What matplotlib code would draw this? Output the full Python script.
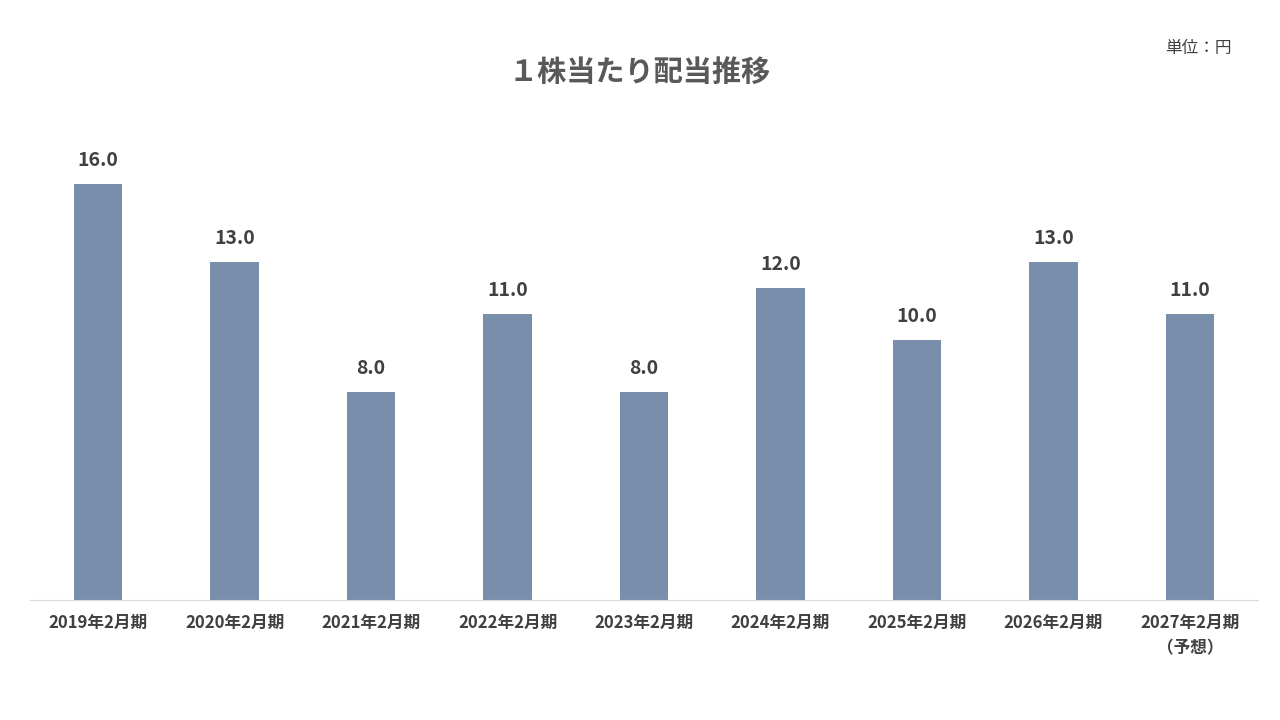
import matplotlib

matplotlib.use("Agg")
import matplotlib.pyplot as plt

plt.rcParams["font.family"] = ["Noto Sans CJK JP", "DejaVu Sans"]

periods = ["2019年2月期", "2020年2月期", "2021年2月期", "2022年2月期", "2023年2月期",
           "2024年2月期", "2025年2月期", "2026年2月期", "2027年2月期\n（予想）"]
dividends = [16.0, 13.0, 8.0, 11.0, 8.0, 12.0, 10.0, 13.0, 11.0]

fig = plt.figure(figsize=(12.8, 7.2), dpi=100)
ax = fig.add_axes([30 / 1280, 120 / 720, 1228 / 1280, 18 * 26 / 720])

x = range(len(dividends))
ax.bar(x, dividends, width=0.355, color="#798eab")
for xi, v in zip(x, dividends):
    ax.text(xi, v + 0.55, f"{v:.1f}", ha="center", va="bottom",
            fontsize=14, fontweight="bold", color="#404040")

ax.set_xlim(-0.5, len(dividends) - 0.5)
ax.set_ylim(0, 18)
ax.set_xticks(list(x))
ax.set_xticklabels(periods, fontsize=12, fontweight="bold", color="#404040",
                   va="top", linespacing=1.5)
ax.tick_params(axis="x", length=0, pad=10)
ax.set_yticks([])
for s in ["top", "left", "right"]:
    ax.spines[s].set_visible(False)
ax.spines["bottom"].set_color("#d9d9d9")

fig.text(0.5, 1 - 72 / 720, "１株当たり配当推移", ha="center", va="center",
         fontsize=21, fontweight="bold", color="#595959")
fig.text(1232 / 1280, 1 - 49 / 720, "単位：円", ha="right", va="center",
         fontsize=12, color="#404040")

fig.savefig("out.png", dpi=100)
